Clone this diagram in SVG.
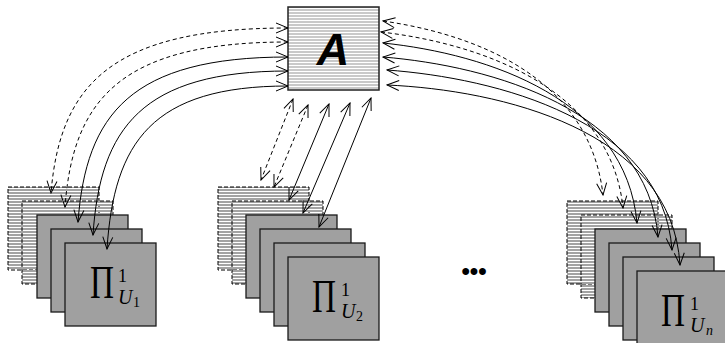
<svg xmlns="http://www.w3.org/2000/svg" width="725" height="343" viewBox="0 0 725 343">
  <defs>
    <style>
      .hatchbox { fill: url(#hatchDark); stroke: #000; stroke-width: 1; stroke-dasharray: 4 2; }
      .card { fill: #a0a0a0; stroke: #1a1a1a; stroke-width: 1.3; }
      .pi { font-family: "Liberation Serif", "Times New Roman", serif; fill: #000; }
      .conn { fill: none; stroke: #000; stroke-width: 1; marker-start: url(#vhead); marker-end: url(#vhead); }
      .dash { stroke-dasharray: 4 3; }
    </style>
    <!-- horizontal stripes, transparent between the lines -->
    <pattern id="hatchDark" patternUnits="userSpaceOnUse" width="6" height="3">
      <rect x="0" y="0" width="6" height="2" fill="#a3a3a3"/>
    </pattern>
    <pattern id="hatchLight" patternUnits="userSpaceOnUse" width="6" height="3">
      <rect x="0" y="0" width="6" height="3" fill="#ffffff"/>
      <rect x="0" y="0" width="6" height="2" fill="#c9c9c9"/>
    </pattern>
    <!-- open V arrowhead used at both ends of every connector -->
    <marker id="vhead" viewBox="-14 -7 15 14" refX="0" refY="0" markerWidth="15" markerHeight="14" markerUnits="userSpaceOnUse" orient="auto-start-reverse">
      <path d="M-12,-5 L0,0 L-12,5" fill="none" stroke="#000" stroke-width="1" stroke-dasharray="none"/>
    </marker>
  </defs>

  <rect width="725" height="343" fill="#ffffff"/>

  <!-- central node -->
  <g id="node-A">
    <rect x="288" y="7" width="91" height="83" fill="url(#hatchLight)" stroke="#222" stroke-width="1.5"/>
    <text x="333" y="65" text-anchor="middle" font-family="'Liberation Sans', Arial, sans-serif" font-size="45" font-weight="bold" font-style="italic" fill="#000">A</text>
  </g>

  <!-- stack for U1 -->
  <g id="stack-U1">
    <rect class="hatchbox" x="8" y="187" width="91" height="83"/>
    <rect class="hatchbox" x="22" y="201" width="91" height="83"/>
    <rect class="card" x="37" y="215" width="91" height="83"/>
    <rect class="card" x="51" y="229" width="91" height="83"/>
    <rect class="card" x="65" y="243" width="91" height="83"/>
    <text class="pi" x="90" y="298" font-size="46" textLength="24" lengthAdjust="spacingAndGlyphs">Π</text>
    <text class="pi" x="118" y="282" font-size="18">1</text>
    <text class="pi" x="118" y="304" font-size="20" font-style="italic">U</text>
    <text class="pi" x="133" y="307" font-size="14">1</text>
  </g>

  <!-- stack for U2 -->
  <g id="stack-U2">
    <rect class="hatchbox" x="218" y="187" width="91" height="83"/>
    <rect class="hatchbox" x="232" y="201" width="91" height="83"/>
    <rect class="card" x="246" y="215" width="91" height="83"/>
    <rect class="card" x="260" y="229" width="91" height="83"/>
    <rect class="card" x="274" y="243" width="91" height="83"/>
    <rect class="card" x="288" y="257" width="91" height="83"/>
    <text class="pi" x="312" y="312" font-size="46" textLength="24" lengthAdjust="spacingAndGlyphs">Π</text>
    <text class="pi" x="341" y="296" font-size="18">1</text>
    <text class="pi" x="341" y="318" font-size="20" font-style="italic">U</text>
    <text class="pi" x="356" y="321" font-size="14">2</text>
  </g>

  <!-- stack for Un -->
  <g id="stack-Un">
    <rect class="hatchbox" x="567" y="201" width="91" height="83"/>
    <rect class="hatchbox" x="581" y="215" width="91" height="83"/>
    <rect class="card" x="595" y="229" width="91" height="83"/>
    <rect class="card" x="609" y="243" width="91" height="83"/>
    <rect class="card" x="623" y="257" width="91" height="83"/>
    <rect class="card" x="637" y="271" width="91" height="83"/>
    <text class="pi" x="661" y="326" font-size="46" textLength="24" lengthAdjust="spacingAndGlyphs">Π</text>
    <text class="pi" x="690" y="310" font-size="18">1</text>
    <text class="pi" x="690" y="332" font-size="20" font-style="italic">U</text>
    <text class="pi" x="706" y="335" font-size="14" font-style="italic">n</text>
  </g>

  <text id="ellipsis" x="474" y="279" text-anchor="middle" font-family="'Liberation Sans', Arial, sans-serif" font-size="24" font-weight="bold" fill="#000">•••</text>

  <!-- connectors -->
  <g id="connectors">
    <!-- A to U1 -->
    <path class="conn dash" d="M288,28 C111,28 60,85 51,193"/>
    <path class="conn dash" d="M288,42 C121,42 73,99 65,207"/>
    <path class="conn" d="M288,57 C131,57 86,114 78,222"/>
    <path class="conn" d="M288,71 C142,71 100,128 93,235"/>
    <path class="conn" d="M288,86 C152,86 114,142 107,249"/>
    <!-- A to U2 -->
    <path class="conn dash" d="M293,99 L261,180"/>
    <path class="conn dash" d="M308,105 L274,187"/>
    <path class="conn" d="M329,104 L289,200"/>
    <path class="conn" d="M350,103 L303,213"/>
    <path class="conn" d="M371,98 L319,227"/>
    <!-- A to Un -->
    <path class="conn dash" d="M383,21 C480,35 590,80 603,195"/>
    <path class="conn dash" d="M381,32 C484,44 611,90 623,208"/>
    <path class="conn" d="M383,43 C489,54 626,100 637,223"/>
    <path class="conn" d="M383,57 C492,66 648,110 658,237"/>
    <path class="conn" d="M387,70 C496,78 663,120 672,250"/>
    <path class="conn" d="M387,85 C500,90 672,130 680,265"/>
  </g>
</svg>
